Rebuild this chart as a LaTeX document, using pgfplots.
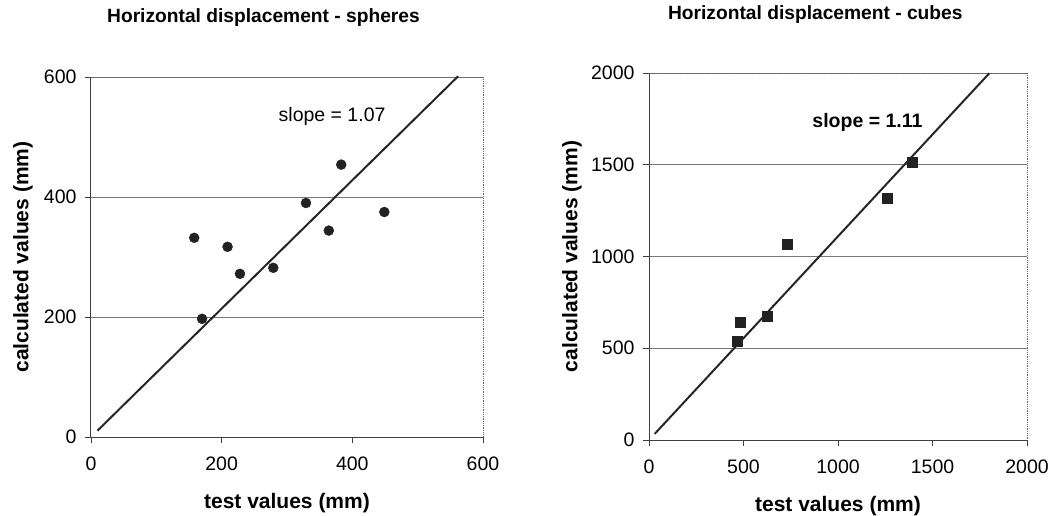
\documentclass[border=0pt]{standalone}
\usepackage{pgfplots}
\pgfplotsset{compat=1.18}
\usepackage{fontspec}
\setmainfont{Liberation Sans}
\definecolor{pt}{HTML}{222222}
\definecolor{gridc}{HTML}{777777}

\pgfplotsset{
  scanstyle/.style={
    scale only axis,
    anchor=south west,
    axis x line*=bottom,
    axis y line*=left,
    axis line style={line width=1pt, black!75},
    tick align=outside,
    major tick length=6pt,
    tick style={line width=0.8pt, black!75},
    ymajorgrids,
    grid style={line width=0.9pt, gridc},
    ticklabel style={font=\fontsize{19.5}{21}\selectfont},
    xticklabel style={yshift=-10pt},
    yticklabel style={xshift=-5pt},
    /pgf/number format/assume math mode=true,
    /pgf/number format/1000 sep={},
    label style={font=\bfseries\fontsize{21}{23}\selectfont},
    xlabel={test values (mm)},
    ylabel={calculated values (mm)},
    xlabel style={at={(rel axis cs:0.5,0)}, anchor=center, yshift=-66pt},
    title style={font=\bfseries\fontsize{19.2}{21}\selectfont, anchor=center},
    clip=false,
  },
}

\pgfplotstableread{
x y
158 332
170 197
209 317
228 272
279 282
329 390
364 344
383 454
449 375
}\spheres

\pgfplotstableread{
x y
464 541
482 644
623 677
729 1069
1259 1316
1391 1514
}\cubes

\begin{document}
\begin{tikzpicture}[x=1pt,y=1pt]
\path[use as bounding box] (0pt,0pt) rectangle (1060pt,-515pt);

% spheres
\begin{axis}[scanstyle,
  at={(91pt,-437pt)}, width=392pt, height=360pt,
  xmin=0, xmax=600, ymin=0, ymax=600,
  xtick={0,200,400,600}, ytick={0,200,400,600},
  ylabel style={at={(rel axis cs:0,0.5)}, anchor=center, yshift=68pt},
  title={Horizontal displacement - spheres},
  title style={at={(rel axis cs:0.44,1)}, yshift=53pt},
]
\draw[densely dotted, line width=0.8pt, black!60] (rel axis cs:0,1) -- (rel axis cs:1,1) -- (rel axis cs:1,0);
\addplot[no marks, line width=2pt, black!85] coordinates {(10,10.7) (562,601.3)};
\addplot[only marks, mark=*, mark size=5pt, pt] table {\spheres};
\node[font=\fontsize{19.5}{21}\selectfont] at (axis cs:369,534) {slope = 1.07};
\end{axis}

% cubes
\begin{axis}[scanstyle,
  at={(649pt,-440pt)}, width=378pt, height=367pt,
  xmin=0, xmax=2000, ymin=0, ymax=2000,
  xtick={0,500,1000,1500,2000}, ytick={0,500,1000,1500,2000},
  ylabel style={at={(rel axis cs:0,0.5)}, anchor=center, yshift=77pt},
  title={Horizontal displacement - cubes},
  title style={at={(rel axis cs:0.44,1)}, yshift=52pt},
]
\draw[densely dotted, line width=0.8pt, black!60] (rel axis cs:0,1) -- (rel axis cs:1,1) -- (rel axis cs:1,0);
\addplot[no marks, line width=2pt, black!85] coordinates {(30,33.3) (1800,1998)};
\addplot[only marks, mark=square*, mark size=5pt, pt] table {\cubes};
\node[font=\bfseries\fontsize{19.5}{21}\selectfont] at (axis cs:1156,1733) {slope = 1.11};
\end{axis}
\end{tikzpicture}
\end{document}
